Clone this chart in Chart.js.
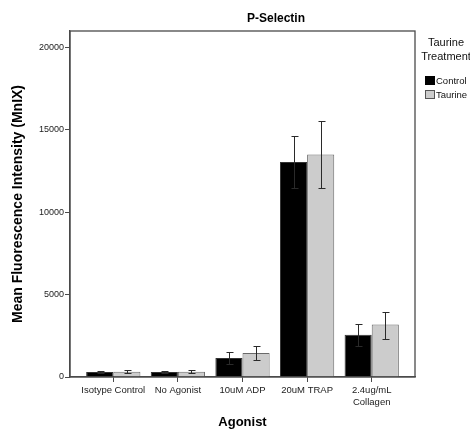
<!DOCTYPE html>
<html>
<head>
<meta charset="utf-8">
<script src="https://cdn.jsdelivr.net/npm/chart.js@4.4.1/dist/chart.umd.min.js"></script>
<style>
  html, body { margin: 0; padding: 0; background: #fff; }
  #wrap { width: 470px; height: 430px; position: relative; }
</style>
</head>
<body>
<div id="wrap"><canvas id="c" width="470" height="430"></canvas></div>
<script>
const categories = ["Isotype Control", "No Agonist", "10uM ADP", "20uM TRAP", ["2.4ug/mL", "Collagen"]];
const seriesNames = ["Control", "Taurine"];
const controlMeans = [300, 310, 1150, 13050, 2570];
const controlErrLow = [230, 250, 800, 11500, 1900];
const controlErrHigh = [380, 380, 1500, 14600, 3240];
const taurineMeans = [320, 320, 1460, 13510, 3180];
const taurineErrLow = [220, 240, 1010, 11470, 2310];
const taurineErrHigh = [420, 400, 1900, 15560, 3970];
const yTicks = [0, 5000, 10000, 15000, 20000];
const chartTitle = "P-Selectin";
const xTitle = "Agonist";
const yTitle = "Mean Fluorescence Intensity (MnIX)";
const legendTitle = ["Taurine", "Treatment"];

const FONT = "'Liberation Sans', Arial, sans-serif";

const toPts = arr => arr.map((v, i) => ({ x: i, y: v }));

const errorBars = {
  id: 'errorBars',
  afterDatasetsDraw(chart) {
    const ctx = chart.ctx;
    const ys = chart.scales.y;
    const errs = [[controlErrLow, controlErrHigh], [taurineErrLow, taurineErrHigh]];
    ctx.save();
    ctx.strokeStyle = '#2a2a2a';
    ctx.lineWidth = 1;
    chart.data.datasets.forEach((ds, di) => {
      const meta = chart.getDatasetMeta(di);
      meta.data.forEach((el, i) => {
        const x = Math.round(el.x) + 0.5;
        const yl = Math.round(ys.getPixelForValue(errs[di][0][i])) + 0.5;
        const yh = Math.round(ys.getPixelForValue(errs[di][1][i])) + 0.5;
        ctx.beginPath();
        ctx.moveTo(x, yl); ctx.lineTo(x, yh);
        ctx.moveTo(x - 3, yl); ctx.lineTo(x + 4, yl);
        ctx.moveTo(x - 3, yh); ctx.lineTo(x + 4, yh);
        ctx.stroke();
      });
    });
    ctx.restore();
  }
};

const decor = {
  id: 'decor',
  afterDraw(chart) {
    const ctx = chart.ctx;
    const a = chart.chartArea;
    ctx.save();
    ctx.strokeStyle = '#4a4a4a';
    ctx.lineWidth = 1.3;
    ctx.strokeRect(a.left, a.top, a.right - a.left, a.bottom - a.top);
    ctx.fillStyle = '#000';
    ctx.textAlign = 'center';
    ctx.textBaseline = 'middle';
    ctx.font = "bold 12px " + FONT;
    ctx.fillText(chartTitle, 276, 19);
    // legend
    ctx.font = "11px " + FONT;
    ctx.fillStyle = '#111';
    ctx.fillText(legendTitle[0], 446, 43);
    ctx.fillText(legendTitle[1], 446, 57);
    const colors = [chart.data.datasets[0].backgroundColor, chart.data.datasets[1].backgroundColor];
    const borders = ['#000', '#555'];
    ctx.textAlign = 'left';
    ctx.font = "9.5px " + FONT;
    seriesNames.forEach((n, i) => {
      const y = 76 + i * 14;
      ctx.fillStyle = colors[i];
      ctx.fillRect(425, y, 10, 9);
      ctx.strokeStyle = borders[i];
      ctx.lineWidth = 1;
      ctx.strokeRect(425.5, y + 0.5, 9, 8);
      ctx.fillStyle = '#111';
      ctx.fillText(n, 436, y + 5);
    });
    ctx.restore();
  }
};

new Chart(document.getElementById('c'), {
  type: 'bar',
  data: {
    datasets: [
      { label: seriesNames[0], data: toPts(controlMeans), backgroundColor: '#000000', borderColor: '#333333', borderWidth: 1 },
      { label: seriesNames[1], data: toPts(taurineMeans), backgroundColor: '#cccccc', borderColor: '#6a6a6a', borderWidth: 1 }
    ]
  },
  options: {
    responsive: false,
    animation: false,
    devicePixelRatio: 1,
    layout: { padding: { top: 31, right: 55, left: 0, bottom: 0 } },
    plugins: { legend: { display: false }, tooltip: { enabled: false }, title: { display: false } },
    categoryPercentage: 0.84,
    barPercentage: 1.0,
    scales: {
      x: {
        type: 'linear',
        min: -0.67,
        max: 4.67,
        offset: false,
        grid: { display: true, offset: false, drawOnChartArea: false, drawTicks: true, tickLength: 5, color: '#4a4a4a' },
        border: { display: true, color: '#4a4a4a', width: 1.3 },
        afterBuildTicks: s => { s.ticks = categories.map((c, i) => ({ value: i })); },
        ticks: {
          includeBounds: false,
          stepSize: 1,
          autoSkip: false,
          maxRotation: 0,
          minRotation: 0,
          padding: 3,
          color: '#222',
          font: { family: FONT, size: 9.5 },
          callback: v => categories[v]
        },
        title: { display: true, text: xTitle, color: '#000', font: { family: FONT, size: 13, weight: 'bold' }, padding: { top: 8, bottom: 0 } },
        afterFit: s => { s.height = 53; }
      },
      y: {
        min: 0,
        max: 21000,
        grid: { display: true, drawOnChartArea: false, drawTicks: true, tickLength: 5, color: '#4a4a4a' },
        border: { display: true, color: '#4a4a4a', width: 1.3 },
        afterBuildTicks: s => { s.ticks = yTicks.map(v => ({ value: v })); },
        ticks: {
          includeBounds: false,
          stepSize: 5000,
          padding: 1,
          color: '#222',
          font: { family: FONT, size: 9 },
          callback: v => String(v)
        },
        title: { display: true, text: yTitle, color: '#000', font: { family: FONT, size: 14, weight: 'bold' }, padding: { top: 10, bottom: 0 } },
        afterFit: s => { s.width = 70; }
      }
    }
  },
  plugins: [errorBars, decor]
});
</script>
</body>
</html>
